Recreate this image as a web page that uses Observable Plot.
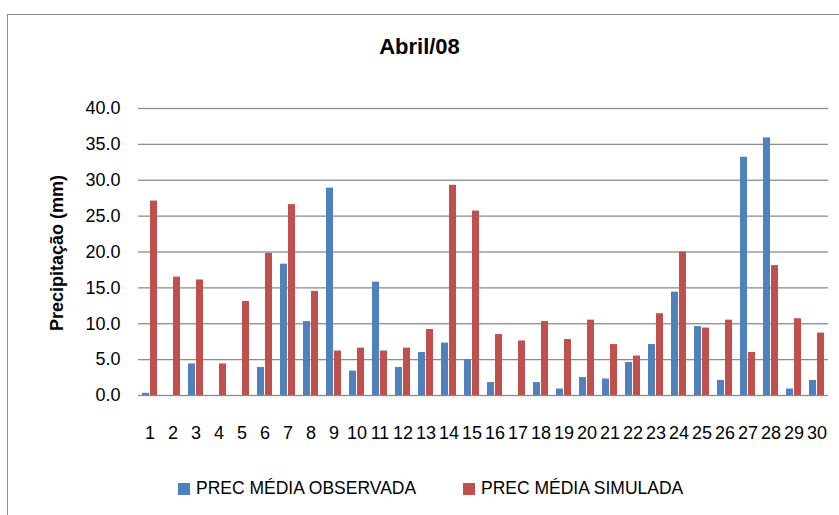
<!DOCTYPE html>
<html>
<head>
<meta charset="utf-8">
<script src="https://cdn.jsdelivr.net/npm/d3@7"></script>
<script src="https://cdn.jsdelivr.net/npm/@observablehq/plot@0.6"></script>
<style>
  html, body { margin: 0; padding: 0; background: #fff; }
  #wrap { position: relative; width: 839px; height: 515px; overflow: hidden; font-family: "Liberation Sans", Arial, sans-serif; }
  #border { position: absolute; left: 7px; top: 14px; width: 850px; height: 520px; border: 1px solid #8c8c8c; box-sizing: border-box; }
  #title { position: absolute; left: 0; width: 839px; top: 34px; text-align: center; font-weight: bold; font-size: 22px; color: #000; }
  #ylabel { position: absolute; left: 57px; top: 253px; transform: translate(-50%, -50%) rotate(-90deg); white-space: nowrap; font-weight: bold; font-size: 18px; color: #000; }
  #chart { position: absolute; left: 0; top: 0; }
  #legend { position: absolute; top: 478px; left: 0; width: 839px; font-size: 17.5px; color: #000; }
  .item { position: absolute; display: flex; align-items: center; white-space: pre; }
  .sw { width: 12px; height: 12px; margin-right: 6px; }
</style>
</head>
<body>
<div id="wrap">
  <div id="border"></div>
  <div id="chart"></div>
  <div id="title"></div>
  <div id="ylabel"></div>
  <div id="legend"></div>
</div>
<script>
const title = "Abril/08";
const yLabel = "Precipitação (mm)";
const days = d3.range(1, 31).map(String);
const seriesNames = ["PREC MÉDIA OBSERVADA", "PREC MÉDIA SIMULADA"];
const seriesColors = ["#4F81BD", "#C0504D"];
const observada = [0.3, 0, 4.4, 0, 0, 3.9, 18.3, 10.3, 28.9, 3.4,
                   15.8, 3.9, 6.0, 7.3, 5.0, 1.8, 0, 1.8, 0.9, 2.5,
                   2.3, 4.6, 7.1, 14.4, 9.6, 2.1, 33.2, 35.9, 0.9, 2.1];
const simulada  = [27.1, 16.5, 16.1, 4.4, 13.1, 19.8, 26.6, 14.5, 6.2, 6.6,
                   6.2, 6.6, 9.2, 29.3, 25.7, 8.5, 7.6, 10.3, 7.8, 10.5,
                   7.1, 5.5, 11.4, 20.0, 9.4, 10.5, 6.0, 18.1, 10.7, 8.7];
const yTicks = [0, 5, 10, 15, 20, 25, 30, 35, 40];

const data = [];
days.forEach((d, i) => {
  data.push({day: d, series: seriesNames[0], value: observada[i]});
  data.push({day: d, series: seriesNames[1], value: simulada[i]});
});

const chart = Plot.plot({
  width: 839,
  height: 458,
  marginTop: 108,
  marginBottom: 63,
  marginLeft: 128,
  marginRight: 2,
  style: {fontFamily: "Liberation Sans, Arial, sans-serif", fontSize: "18px", color: "#000", background: "transparent", overflow: "visible"},
  fx: {domain: days, padding: 0, label: null, axis: "bottom", tickSize: 0, tickPadding: 31},
  x: {domain: seriesNames, axis: null, paddingInner: 0.15, paddingOuter: 0.4},
  y: {domain: [0, 40], ticks: yTicks, tickFormat: d3.format(".1f"), tickSize: 0, tickPadding: 18, label: null},
  color: {domain: seriesNames, range: seriesColors},
  marks: [
    Plot.ruleY(yTicks, {stroke: "#8c8c8c", strokeWidth: 1.3}),
    Plot.barY(data, {fx: "day", x: "series", y: "value", fill: "series"})
  ]
});
document.getElementById("chart").appendChild(chart);
document.getElementById("title").textContent = title;
document.getElementById("ylabel").textContent = yLabel;

const legend = document.getElementById("legend");
const legendX = [178, 463];
seriesNames.forEach((s, i) => {
  const it = document.createElement("div");
  it.className = "item";
  it.style.left = legendX[i] + "px";
  const sw = document.createElement("span");
  sw.className = "sw";
  sw.style.background = seriesColors[i];
  const t = document.createElement("span");
  t.textContent = s;
  it.appendChild(sw); it.appendChild(t);
  legend.appendChild(it);
});
</script>
</body>
</html>
